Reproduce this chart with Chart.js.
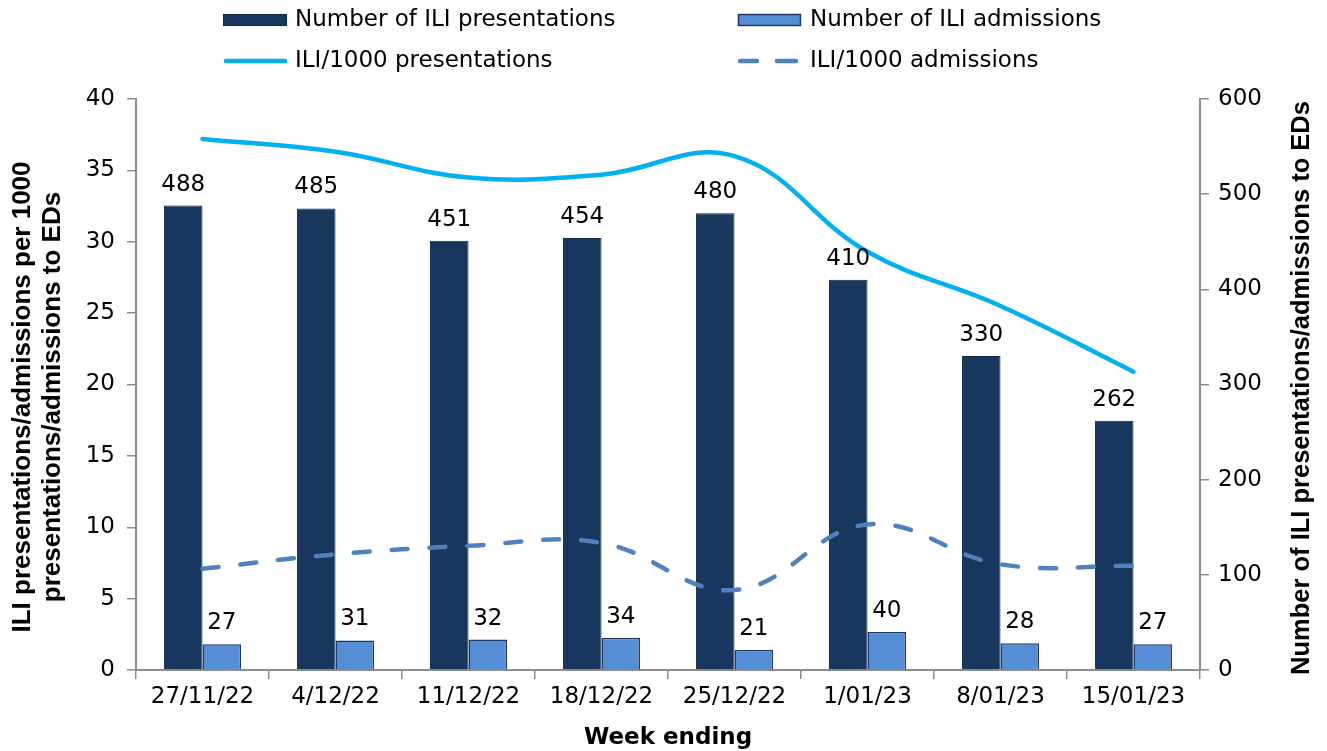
<!DOCTYPE html>
<html>
<head>
<meta charset="utf-8">
<script src="https://cdn.jsdelivr.net/npm/chart.js@4/dist/chart.umd.min.js"></script>
<style>
  html, body { margin: 0; padding: 0; background: #ffffff; }
  #wrap { width: 1327px; height: 751px; position: relative; }
</style>
</head>
<body>
<div id="wrap"><canvas id="c" width="1327" height="751"></canvas></div>
<script>
const weeks = ['27/11/22', '4/12/22', '11/12/22', '18/12/22', '25/12/22', '1/01/23', '8/01/23', '15/01/23'];
const presentations = [488, 485, 451, 454, 480, 410, 330, 262];
const admissions = [27, 31, 32, 34, 21, 40, 28, 27];
const rateP = [37.2, 36.3, 34.5, 34.7, 36.0, 29.3, 25.5, 20.9];
const rateA = [7.1, 8.1, 8.7, 8.9, 5.6, 10.2, 7.4, 7.3];
const leftTicks = [0, 5, 10, 15, 20, 25, 30, 35, 40];
const rightTicks = [0, 100, 200, 300, 400, 500, 600];
const seriesNames = ['Number of ILI presentations', 'Number of ILI admissions', 'ILI/1000 presentations', 'ILI/1000 admissions'];
const leftTitle = ['ILI presentations/admissions per 1000', 'presentations/admissions to EDs'];
const rightTitle = 'Number of ILI presentations/admissions to EDs';
const xTitle = 'Week ending';

const C_DARK = '#17375E';
const C_LIGHT = '#558ED5';
const C_CYAN = '#00B0F0';
const C_DASH = '#4F81BD';
const AXIS = '#8c8c8c';
const TICK_FONT = { family: '"DejaVu Sans"', size: 23 };

const labelPlugin = {
  id: 'barLabels',
  afterDatasetsDraw(chart) {
    const ctx = chart.ctx;
    ctx.save();
    ctx.fillStyle = '#000';
    ctx.font = '23px "DejaVu Sans"';
    ctx.textAlign = 'center';
    ctx.textBaseline = 'alphabetic';
    chart.data.datasets.forEach((ds, i) => {
      if (ds.type !== 'bar') return;
      const meta = chart.getDatasetMeta(i);
      meta.data.forEach((el, j) => {
        ctx.fillText(String(ds.data[j]), el.x, el.y - 15);
      });
    });
    ctx.restore();
  }
};

const decorPlugin = {
  id: 'decor',
  afterDraw(chart) {
    const ctx = chart.ctx;
    const ca = chart.chartArea;
    ctx.save();
    // Legend
    ctx.font = '23px "DejaVu Sans"';
    ctx.textBaseline = 'middle';
    ctx.textAlign = 'left';
    ctx.fillStyle = C_DARK; ctx.fillRect(223, 14, 64, 12);
    ctx.strokeStyle = '#0f2744'; ctx.lineWidth = 1; ctx.strokeRect(223.5, 14.5, 63, 11);
    ctx.fillStyle = C_LIGHT; ctx.fillRect(738, 14, 63, 12);
    ctx.strokeStyle = '#1f3864'; ctx.lineWidth = 1.5; ctx.strokeRect(738.5, 14.5, 62, 11);
    ctx.fillStyle = '#000';
    ctx.fillText(seriesNames[0], 295, 20);
    ctx.fillText(seriesNames[1], 810, 20);
    ctx.lineCap = 'round';
    ctx.strokeStyle = C_CYAN; ctx.lineWidth = 4.5;
    ctx.beginPath(); ctx.moveTo(226, 61); ctx.lineTo(285, 61); ctx.stroke();
    ctx.strokeStyle = C_DASH;
    ctx.beginPath(); ctx.moveTo(740, 61); ctx.lineTo(757, 61); ctx.stroke();
    ctx.beginPath(); ctx.moveTo(777, 61); ctx.lineTo(796, 61); ctx.stroke();
    ctx.fillText(seriesNames[2], 295, 61);
    ctx.fillText(seriesNames[3], 810, 61);
    // Axis titles
    ctx.textAlign = 'center';
    ctx.textBaseline = 'alphabetic';
    ctx.font = 'bold 26px "Liberation Sans"';
    ctx.save();
    ctx.translate(30, 397);
    ctx.rotate(-Math.PI / 2);
    ctx.fillText(leftTitle[0], 0, 0);
    ctx.restore();
    ctx.save();
    ctx.translate(60, 397);
    ctx.rotate(-Math.PI / 2);
    ctx.fillText(leftTitle[1], 0, 0);
    ctx.restore();
    ctx.font = 'bold 25.5px "Liberation Sans"';
    ctx.save();
    ctx.translate(1309, 388);
    ctx.rotate(-Math.PI / 2);
    ctx.fillText(rightTitle, 0, 0);
    ctx.restore();
    ctx.font = 'bold 23px "DejaVu Sans"';
    ctx.textBaseline = 'middle';
    ctx.fillText(xTitle, (ca.left + ca.right) / 2, 738);
    ctx.restore();
  }
};

new Chart(document.getElementById('c'), {
  data: {
    labels: weeks,
    datasets: [
      {
        type: 'line', label: seriesNames[2], data: rateP, yAxisID: 'y',
        borderColor: C_CYAN, borderWidth: 4.5, pointRadius: 0, tension: 0.4,
        borderCapStyle: 'round', fill: false, order: 0
      },
      {
        type: 'line', label: seriesNames[3], data: rateA, yAxisID: 'y',
        borderColor: C_DASH, borderWidth: 4.5, pointRadius: 0, tension: 0.4,
        borderDash: [16, 22], borderCapStyle: 'round', fill: false, order: 0
      },
      {
        type: 'bar', label: seriesNames[0], data: presentations, yAxisID: 'y1',
        backgroundColor: C_DARK, borderColor: '#0f2744', borderWidth: 1,
        barPercentage: 1, categoryPercentage: 0.58, order: 1
      },
      {
        type: 'bar', label: seriesNames[1], data: admissions, yAxisID: 'y1',
        backgroundColor: C_LIGHT, borderColor: '#1f3864', borderWidth: 1.5,
        barPercentage: 1, categoryPercentage: 0.58, order: 1
      }
    ]
  },
  options: {
    responsive: false,
    animation: false,
    layout: { padding: { top: 99, left: 0, right: 0, bottom: 0 } },
    plugins: { legend: { display: false }, tooltip: { enabled: false } },
    scales: {
      x: {
        type: 'category',
        offset: true,
        grid: { display: true, offset: true, drawOnChartArea: false, drawTicks: true, tickLength: 9, color: AXIS, lineWidth: 1.5 },
        border: { display: true, color: AXIS, width: 2 },
        ticks: { color: '#000', font: TICK_FONT, padding: 4, maxRotation: 0, autoSkip: false },
        afterFit(s) { s.height = 81; }
      },
      y: {
        position: 'left', min: 0, max: 40,
        afterBuildTicks(s) { s.ticks = leftTicks.map(v => ({ value: v })); },
        grid: { display: true, drawOnChartArea: false, drawTicks: true, tickLength: 9, color: AXIS, lineWidth: 1.5 },
        border: { display: true, color: AXIS, width: 2 },
        ticks: { color: '#000', font: TICK_FONT, padding: 12 },
        afterFit(s) { s.width = 136; }
      },
      y1: {
        position: 'right', min: 0, max: 600,
        afterBuildTicks(s) { s.ticks = rightTicks.map(v => ({ value: v })); },
        grid: { display: true, drawOnChartArea: false, drawTicks: true, tickLength: 9, color: AXIS, lineWidth: 1.5 },
        border: { display: true, color: AXIS, width: 2 },
        ticks: { color: '#000', font: TICK_FONT, padding: 9 },
        afterFit(s) { s.width = 127; }
      }
    }
  },
  plugins: [labelPlugin, decorPlugin]
});
</script>
</body>
</html>
